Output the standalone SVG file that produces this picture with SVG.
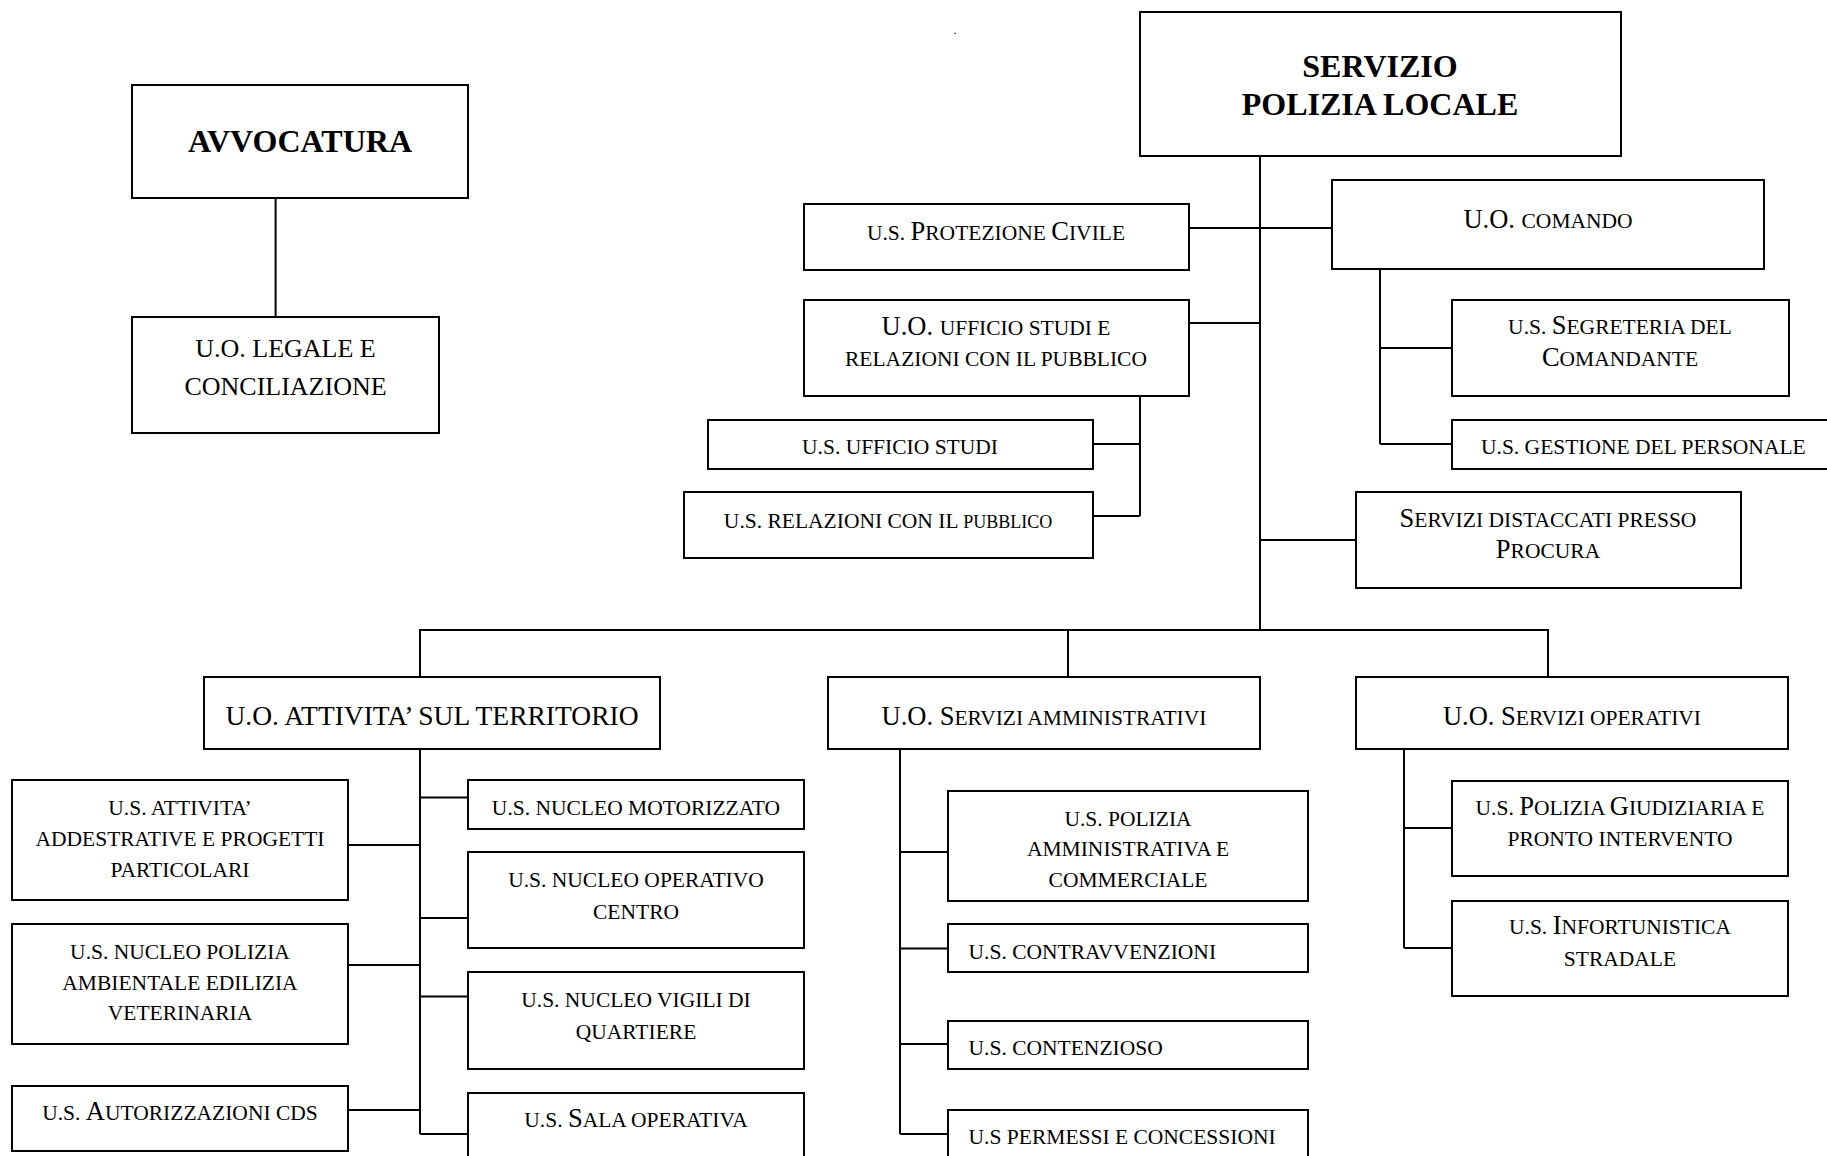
<svg xmlns="http://www.w3.org/2000/svg" width="1827" height="1156" viewBox="0 0 1827 1156">
<style>
.box{fill:#fff;stroke:#000;stroke-width:2}
.ln{fill:none;stroke:#000;stroke-width:2}
text{font-family:"Liberation Serif","Times New Roman",serif;fill:#000;text-anchor:middle}
.st{text-anchor:start}
.B{font-weight:bold;font-size:32px}
.L{font-size:26.5px}
.S{font-size:21.5px}
.T{font-size:18px}
.M{font-size:26px}
.X{font-size:27.5px}
</style>
<rect width="1827" height="1156" fill="#fff"/>
<g id="connectors">
<path class="ln" d="M275.6 198V317"/>
<path class="ln" d="M1260 156V630"/>
<path class="ln" d="M1189 228H1332"/>
<path class="ln" d="M1189 323H1260"/>
<path class="ln" d="M1140 396V516M1093 444H1140M1093 516H1140"/>
<path class="ln" d="M1380 269V444M1380 348H1452M1380 444H1452"/>
<path class="ln" d="M1260 540H1356"/>
<path class="ln" d="M420 677V630H1548V677M1068 630V677"/>
<path class="ln" d="M420 749V1134M348 845H420M348 965H420M348 1110H420M420 797.5H468M420 918H468M420 996.4H468M420 1134H468"/>
<path class="ln" d="M900 749V1134M900 852H948M900 948.6H948M900 1044H948M900 1134H948"/>
<path class="ln" d="M1404 749V948M1404 828H1452M1404 948H1452"/>
</g>
<text x="955" y="33.5" style="font-size:12px">.</text>
<g id="avvocatura"><rect class="box" x="132" y="85" width="336" height="113"/><text class="B" x="300" y="152">AVVOCATURA</text></g>
<g id="legale"><rect class="box" x="132" y="317" width="307" height="116"/><text class="M" x="285.5" y="357">U.O. LEGALE E</text><text class="M" x="285.5" y="395">CONCILIAZIONE</text></g>
<g id="servizio"><rect class="box" x="1140" y="12" width="481" height="144"/><text class="B" x="1380" y="77">SERVIZIO</text><text class="B" x="1380" y="115">POLIZIA LOCALE</text></g>
<g id="protezione"><rect class="box" x="804" y="204" width="385" height="66"/><text x="996" y="240"><tspan class="S">U.S. </tspan><tspan class="L">P</tspan><tspan class="S">ROTEZIONE </tspan><tspan class="L">C</tspan><tspan class="S">IVILE</tspan></text></g>
<g id="comando"><rect class="box" x="1332" y="180" width="432" height="89"/><text x="1548" y="228"><tspan class="L">U.O. </tspan><tspan class="S">COMANDO</tspan></text></g>
<g id="ufficio-studi-relazioni"><rect class="box" x="804" y="300" width="385" height="96"/><text x="996" y="335"><tspan class="L">U.O. </tspan><tspan class="S">UFFICIO STUDI E</tspan></text><text class="S" x="996" y="366">RELAZIONI CON IL PUBBLICO</text></g>
<g id="ufficio-studi"><rect class="box" x="708" y="420" width="385" height="49"/><text class="S" x="900" y="454">U.S. UFFICIO STUDI</text></g>
<g id="relazioni"><rect class="box" x="684" y="492" width="409" height="66"/><text x="888" y="528"><tspan class="S">U.S. RELAZIONI CON IL </tspan><tspan class="T">PUBBLICO</tspan></text></g>
<g id="segreteria"><rect class="box" x="1452" y="300" width="337" height="96"/><text x="1620" y="334"><tspan class="S">U.S. </tspan><tspan class="L">S</tspan><tspan class="S">EGRETERIA DEL</tspan></text><text x="1620" y="366"><tspan class="L">C</tspan><tspan class="S">OMANDANTE</tspan></text></g>
<g id="gestione"><rect class="box" x="1452" y="420" width="400" height="49"/><text class="S st" x="1481" y="454">U.S. GESTIONE DEL PERSONALE</text></g>
<g id="distaccati"><rect class="box" x="1356" y="492" width="385" height="96"/><text x="1548" y="527"><tspan class="L">S</tspan><tspan class="S">ERVIZI DISTACCATI PRESSO</tspan></text><text x="1548" y="558"><tspan class="L">P</tspan><tspan class="S">ROCURA</tspan></text></g>
<g id="attivita-territorio"><rect class="box" x="204" y="677" width="456" height="72"/><text class="X" x="432" y="725">U.O. ATTIVITA’ SUL TERRITORIO</text></g>
<g id="servizi-amministrativi"><rect class="box" x="828" y="677" width="432" height="72"/><text x="1044" y="725"><tspan class="L">U.O. S</tspan><tspan class="S">ERVIZI AMMINISTRATIVI</tspan></text></g>
<g id="servizi-operativi"><rect class="box" x="1356" y="677" width="432" height="72"/><text x="1572" y="725"><tspan class="L">U.O. S</tspan><tspan class="S">ERVIZI OPERATIVI</tspan></text></g>
<g id="addestrative"><rect class="box" x="12" y="780" width="336" height="120"/><text class="S" x="180" y="815">U.S. ATTIVITA’</text><text class="S" x="180" y="846">ADDESTRATIVE E PROGETTI</text><text class="S" x="180" y="877">PARTICOLARI</text></g>
<g id="ambientale"><rect class="box" x="12" y="924" width="336" height="120"/><text class="S" x="180" y="959">U.S. NUCLEO POLIZIA</text><text class="S" x="180" y="989.5">AMBIENTALE EDILIZIA</text><text class="S" x="180" y="1020">VETERINARIA</text></g>
<g id="autorizzazioni"><rect class="box" x="12" y="1086" width="336" height="65"/><text x="180" y="1120"><tspan class="S">U.S. </tspan><tspan class="L">A</tspan><tspan class="S">UTORIZZAZIONI CDS</tspan></text></g>
<g id="motorizzato"><rect class="box" x="468" y="780" width="336" height="49"/><text class="S" x="636" y="815">U.S. NUCLEO MOTORIZZATO</text></g>
<g id="operativo-centro"><rect class="box" x="468" y="852" width="336" height="96"/><text class="S" x="636" y="886.5">U.S. NUCLEO OPERATIVO</text><text class="S" x="636" y="919">CENTRO</text></g>
<g id="vigili"><rect class="box" x="468" y="972" width="336" height="97"/><text class="S" x="636" y="1006.5">U.S. NUCLEO VIGILI DI</text><text class="S" x="636" y="1039">QUARTIERE</text></g>
<g id="sala-operativa"><rect class="box" x="468" y="1093" width="336" height="100"/><text x="636" y="1127"><tspan class="S">U.S. </tspan><tspan class="L">S</tspan><tspan class="S">ALA OPERATIVA</tspan></text></g>
<g id="polizia-amministrativa"><rect class="box" x="948" y="791" width="360" height="110"/><text class="S" x="1128" y="825.5">U.S. POLIZIA</text><text class="S" x="1128" y="855.5">AMMINISTRATIVA E</text><text class="S" x="1128" y="886.5">COMMERCIALE</text></g>
<g id="contravvenzioni"><rect class="box" x="948" y="924" width="360" height="48"/><text class="S st" x="968.6" y="959">U.S. CONTRAVVENZIONI</text></g>
<g id="contenzioso"><rect class="box" x="948" y="1021" width="360" height="48"/><text class="S st" x="968.6" y="1055">U.S. CONTENZIOSO</text></g>
<g id="permessi"><rect class="box" x="948" y="1110" width="360" height="80"/><text class="S st" x="968.6" y="1143.6">U.S PERMESSI E CONCESSIONI</text></g>
<g id="giudiziaria"><rect class="box" x="1452" y="781" width="336" height="95"/><text x="1620" y="815"><tspan class="S">U.S. </tspan><tspan class="L">P</tspan><tspan class="S">OLIZIA </tspan><tspan class="L">G</tspan><tspan class="S">IUDIZIARIA E</tspan></text><text class="S" x="1620" y="846">PRONTO INTERVENTO</text></g>
<g id="infortunistica"><rect class="box" x="1452" y="901" width="336" height="95"/><text x="1620" y="934"><tspan class="S">U.S. </tspan><tspan class="L">I</tspan><tspan class="S">NFORTUNISTICA</tspan></text><text class="S" x="1620" y="966">STRADALE</text></g>
</svg>
